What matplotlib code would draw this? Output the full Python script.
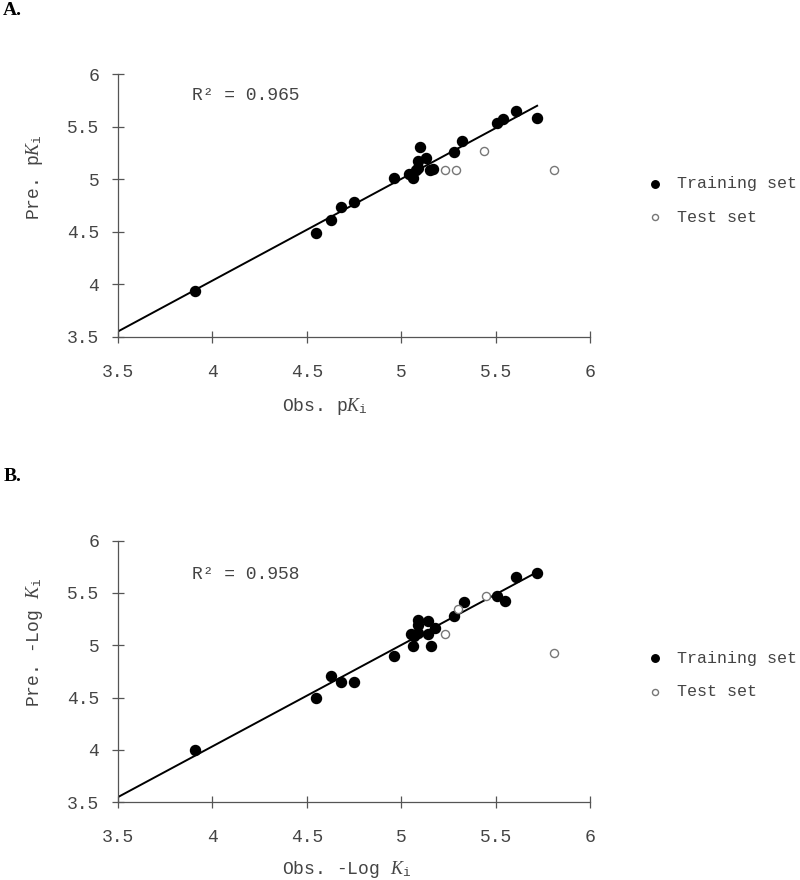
import matplotlib
matplotlib.use("Agg")
import matplotlib.pyplot as plt

# Panel A: pKi model
obs_a_train = [3.91, 4.55, 4.63, 4.68, 4.75, 4.96, 5.04, 5.06, 5.08, 5.09, 5.09, 5.10,
               5.13, 5.15, 5.17, 5.28, 5.32, 5.51, 5.54, 5.61, 5.72]
pred_a_train = [3.94, 4.49, 4.61, 4.74, 4.78, 5.01, 5.05, 5.01, 5.09, 5.11, 5.17, 5.31,
                5.20, 5.09, 5.10, 5.26, 5.36, 5.54, 5.57, 5.65, 5.58]
obs_a_test = [5.23, 5.29, 5.44, 5.81]
pred_a_test = [5.09, 5.09, 5.27, 5.09]
fit_a_x = [3.5, 5.72]
fit_a_y = [3.55, 5.70]
r2_a = 0.965

# Panel B: -Log Ki model
obs_b_train = [3.91, 4.55, 4.63, 4.68, 4.75, 4.96, 5.05, 5.06, 5.07, 5.09, 5.09, 5.09,
               5.14, 5.14, 5.16, 5.18, 5.28, 5.33, 5.51, 5.55, 5.61, 5.72]
pred_b_train = [4.00, 4.50, 4.71, 4.65, 4.65, 4.90, 5.11, 4.99, 5.09, 5.12, 5.24, 5.19,
                5.11, 5.23, 4.99, 5.17, 5.28, 5.41, 5.47, 5.42, 5.65, 5.69]
obs_b_test = [5.23, 5.30, 5.45, 5.81]
pred_b_test = [5.11, 5.35, 5.47, 4.93]
fit_b_x = [3.5, 5.72]
fit_b_y = [3.55, 5.70]
r2_b = 0.958

ticks = [3.5, 4, 4.5, 5, 5.5, 6]

plt.rcParams['font.family'] = ['Liberation Mono', 'DejaVu Sans']
plt.rcParams['mathtext.fontset'] = 'custom'
plt.rcParams['mathtext.rm'] = 'Liberation Mono'
plt.rcParams['mathtext.it'] = 'Liberation Serif:italic'

GREY = '#444444'


def draw_panel(fig, rect, obs_tr, pred_tr, obs_te, pred_te, fx, fy, r2, r2_y,
               xlabel, xlabel_y, ylabel, letter, letter_y, legend_y):
    ax = fig.add_axes(rect)
    ax.plot(fx, fy, color='black', lw=1.4, zorder=2)
    ax.scatter(obs_tr, pred_tr, s=52, color='black', zorder=3, label='Training set')
    ax.scatter(obs_te, pred_te, s=34, facecolor='white', edgecolor='#777777',
               linewidth=1.0, zorder=3, label='Test set')

    ax.set_xlim(3.5, 6)
    ax.set_ylim(3.5, 6)
    ax.set_xticks(ticks)
    ax.set_yticks(ticks)
    ax.set_xticklabels([f"{t:g}" for t in ticks])
    ax.set_yticklabels([f"{t:g}" for t in ticks])
    for side in ['top', 'right']:
        ax.spines[side].set_visible(False)
    for side in ['left', 'bottom']:
        ax.spines[side].set_color('#555555')
        ax.spines[side].set_linewidth(0.9)
    ax.tick_params(direction='inout', length=9, width=0.9, color='#555555',
                   labelsize=13, labelcolor=GREY)
    ax.tick_params(axis='x', pad=15)
    ax.tick_params(axis='y', pad=9)

    ax.set_xlabel(xlabel, fontsize=13, color=GREY, ha='left')
    ax.xaxis.set_label_coords(0.347, xlabel_y)
    ax.set_ylabel(ylabel, fontsize=13, color=GREY)
    ax.yaxis.set_label_coords(-0.155, 0.61)

    ax.text(3.89, r2_y, f"R\u00b2 = {r2:.3f}",
            fontsize=13, color=GREY, va='center', ha='left')

    ax.legend(loc='center left', bbox_to_anchor=(0.79, legend_y),
              bbox_transform=fig.transFigure, frameon=False, fontsize=12,
              handlelength=1.0, handletextpad=0.8, labelspacing=1.1,
              markerscale=0.75, labelcolor=GREY)

    fig.text(0.004, letter_y, letter, fontsize=14, fontweight='bold',
             family='Liberation Serif', va='center', ha='left')
    return ax


fig = plt.figure(figsize=(8, 8.8), dpi=100)

draw_panel(fig, [0.1475, 0.6174, 0.59, 0.2982],
           obs_a_train, pred_a_train, obs_a_test, pred_a_test,
           fit_a_x, fit_a_y, r2_a, 5.80,
           r"Obs. p$K_\mathrm{i}$", -0.225, r"Pre. p$K_\mathrm{i}$", 'A.', 0.988, 0.772)

draw_panel(fig, [0.1475, 0.0883, 0.59, 0.2973],
           obs_b_train, pred_b_train, obs_b_test, pred_b_test,
           fit_b_x, fit_b_y, r2_b, 5.68,
           r"Obs. -Log $K_\mathrm{i}$", -0.215, r"Pre. -Log $K_\mathrm{i}$", 'B.', 0.459, 0.233)

fig.savefig("out.png", dpi=100)
plt.close(fig)
